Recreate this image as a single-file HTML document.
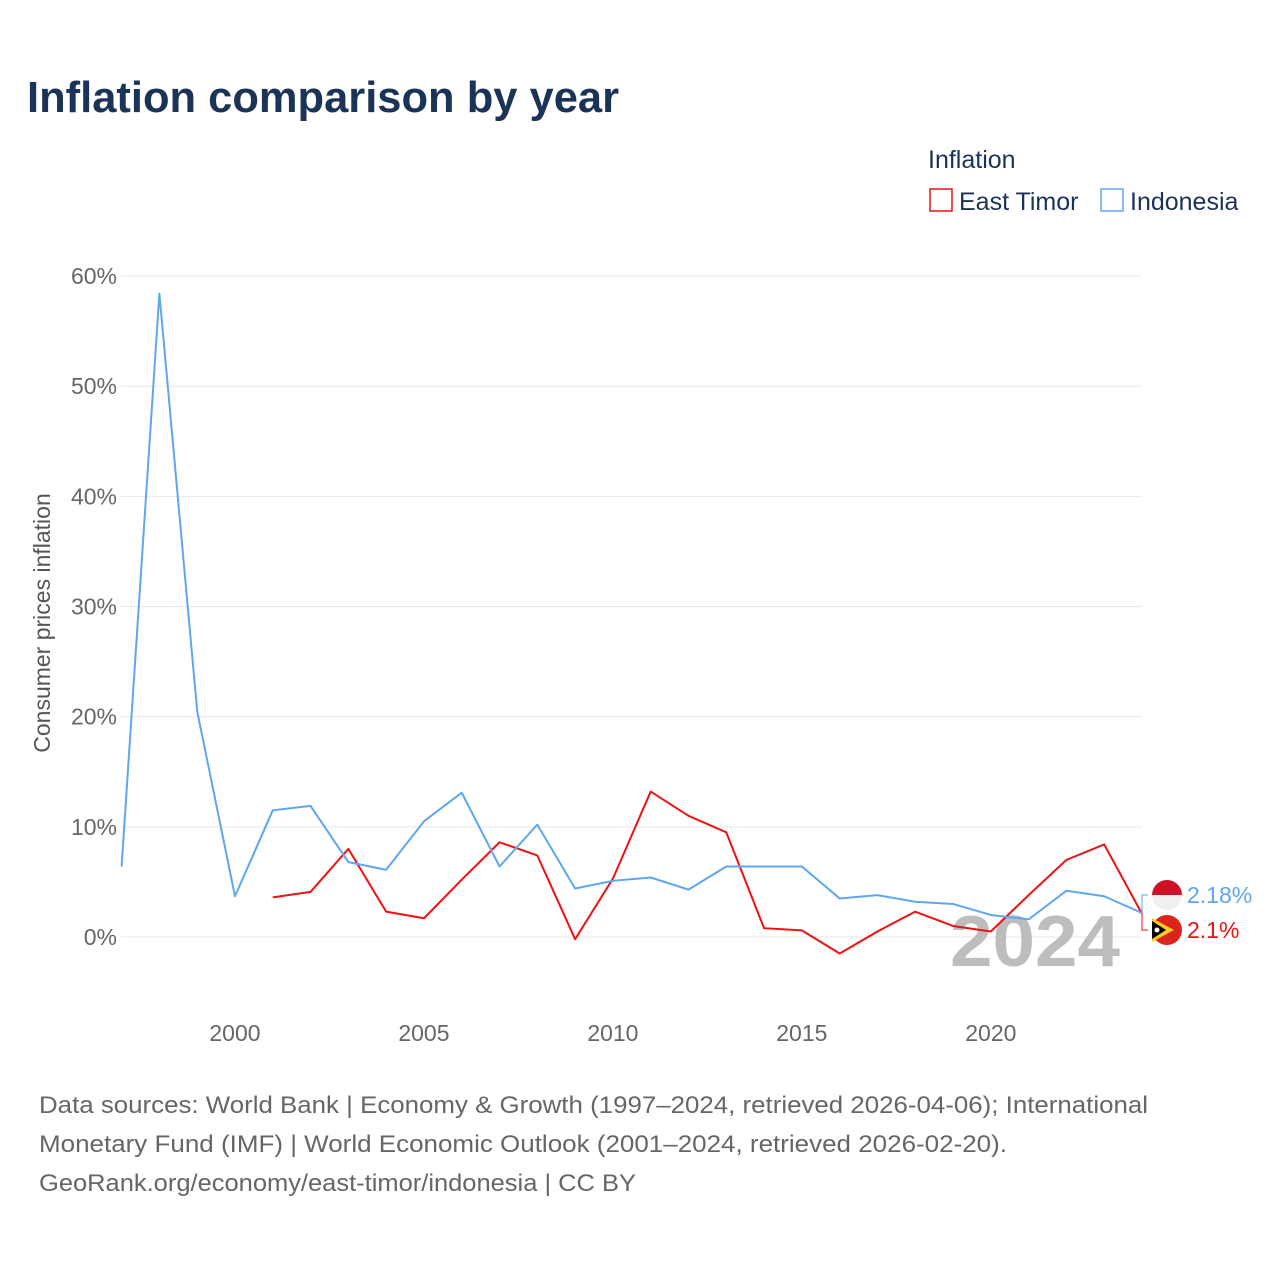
<!DOCTYPE html>
<html><head><meta charset="utf-8"><style>
body{margin:0;background:#fff;font-family:"Liberation Sans",sans-serif}
svg text{font-family:"Liberation Sans",sans-serif}
</style></head><body>
<svg id="chart" width="1280" height="1280" viewBox="0 0 1280 1280">
<text x="27" y="112" font-size="44" font-weight="bold" fill="#1a3356" textLength="592" lengthAdjust="spacingAndGlyphs">Inflation comparison by year</text>
<text x="928" y="168" font-size="25" fill="#1a3356">Inflation</text>
<g><rect x="930" y="189" width="22" height="22" fill="none" stroke="#ee1111" stroke-width="1.5"/><text x="959" y="210" font-size="25" fill="#1a3356">East Timor</text></g>
<g><rect x="1101" y="189" width="22" height="22" fill="none" stroke="#5ea6ee" stroke-width="1.5"/><text x="1130" y="210" font-size="25" fill="#1a3356">Indonesia</text></g>
<g id="grid"></g><g id="yticks"></g><g id="xticks"></g>
<text x="1120" y="966" font-size="72" font-weight="bold" fill="#bdbdbd" text-anchor="end" textLength="170" lengthAdjust="spacingAndGlyphs">2024</text>
<text transform="translate(50,623) rotate(-90)" font-size="23" fill="#555" text-anchor="middle">Consumer prices inflation</text>
<g id="series"></g>
<g font-size="24" fill="#666">
<text x="39" y="1113" textLength="1109" lengthAdjust="spacingAndGlyphs">Data sources: World Bank | Economy &amp; Growth (1997–2024, retrieved 2026-04-06); International</text>
<text x="39" y="1152" textLength="968" lengthAdjust="spacingAndGlyphs">Monetary Fund (IMF) | World Economic Outlook (2001–2024, retrieved 2026-02-20).</text>
<text x="39" y="1191" textLength="597" lengthAdjust="spacingAndGlyphs">GeoRank.org/economy/east-timor/indonesia | CC BY</text>
</g>
</svg>
<script>
const years = [1997,1998,1999,2000,2001,2002,2003,2004,2005,2006,2007,2008,2009,2010,2011,2012,2013,2014,2015,2016,2017,2018,2019,2020,2021,2022,2023,2024];
const indonesia = [6.4,58.4,20.5,3.7,11.5,11.9,6.8,6.1,10.5,13.1,6.4,10.2,4.4,5.1,5.4,4.3,6.4,6.4,6.4,3.5,3.8,3.2,3.0,2.0,1.6,4.2,3.7,2.18];
const timorYears = [2001,2002,2003,2004,2005,2006,2007,2008,2009,2010,2011,2012,2013,2014,2015,2016,2017,2018,2019,2020,2021,2022,2023,2024];
const timor = [3.6,4.1,8.0,2.3,1.7,5.2,8.6,7.4,-0.2,5.3,13.2,11.0,9.5,0.8,0.6,-1.5,0.5,2.3,1.0,0.5,3.8,7.0,8.4,2.1];
const yTicks = [0,10,20,30,40,50,60];
const xTicks = [2000,2005,2010,2015,2020];
const NS="http://www.w3.org/2000/svg";
const xS=y=>121.6+(y-1997)*(1142-121.6)/27;
const yS=v=>937-v*(937-276)/60;
function mk(t,a,p){const e=document.createElementNS(NS,t);for(const k in a)e.setAttribute(k,a[k]);p.appendChild(e);return e;}
const grid=document.getElementById('grid'),yt=document.getElementById('yticks'),xt=document.getElementById('xticks'),ser=document.getElementById('series');
yTicks.forEach(v=>{
 const l=mk('line',{x1:121,x2:1142,y1:yS(v),y2:yS(v),stroke:'#e8e8e8','stroke-width':1},grid);
 
 
 const t=mk('text',{x:117,y:yS(v)+8,'font-size':23,fill:'#666','text-anchor':'end'},yt);t.textContent=v+'%';
 
 
});
xTicks.forEach(y=>{
 const t=mk('text',{x:xS(y),y:1041,'font-size':23,fill:'#666','text-anchor':'middle'},xt);t.textContent=y;
 
 
});
function line(xs,vs,c,name){
 const p=mk('polyline',{points:xs.map((y,i)=>xS(y)+','+yS(vs[i])).join(' '),fill:'none',stroke:c,'stroke-width':2,'stroke-linejoin':'round'},ser);
 
 
}
line(timorYears,timor,'#ee1111','east-timor-line');
line(years,indonesia,'#5ea6ee','indonesia-line');
const iv=indonesia[indonesia.length-1],tv=timor[timor.length-1];
const iy=895,ty=930;
mk('path',{d:`M1142 ${yS(iv)} L1142 ${iy} L1148 ${iy}`,fill:'none',stroke:'#5ea6ee','stroke-width':1},ser);
mk('path',{d:`M1142 ${yS(tv)} L1142 ${ty} L1148 ${ty}`,fill:'none',stroke:'#ee1111','stroke-width':1},ser);
const f1=mk('g',{},ser);


mk('path',{d:`M1152 ${iy} A15 15 0 0 1 1182 ${iy} Z`,fill:'#ce1126'},f1);
mk('path',{d:`M1152 ${iy} A15 15 0 0 0 1182 ${iy} Z`,fill:'#f0f0f0'},f1);
const f2=mk('g',{},ser);


mk('circle',{cx:1167,cy:ty,r:15,fill:'#dc241f'},f2);
mk('path',{d:`M1152 ${ty-12} L1174 ${ty} L1152 ${ty+12} Z`,fill:'#ffc726'},f2);
mk('path',{d:`M1152 ${ty-9} L1166 ${ty} L1152 ${ty+9} Z`,fill:'#000'},f2);
mk('circle',{cx:1157,cy:ty,r:2.5,fill:'#fff'},f2);
const l1=mk('text',{x:1187,y:iy+8,'font-size':23,fill:'#5ea6ee'},ser);l1.textContent=iv+'%';


const l2=mk('text',{x:1187,y:ty+8,'font-size':23,fill:'#ee1111'},ser);l2.textContent=tv+'%';


</script>
</body></html>
